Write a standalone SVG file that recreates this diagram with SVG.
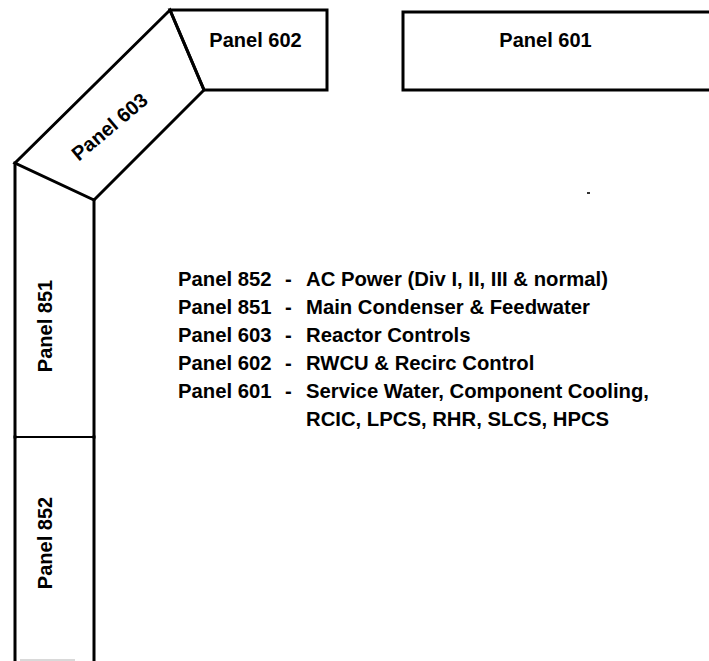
<svg xmlns="http://www.w3.org/2000/svg" width="709" height="661" viewBox="0 0 709 661">
<style>
.edge{fill:none;stroke:#000;stroke-width:3;stroke-linejoin:miter;stroke-linecap:square}
.thin{fill:none;stroke:#000;stroke-width:2.2}
.lbl{font-family:"Liberation Sans",Arial,Helvetica,sans-serif;font-weight:bold;font-size:20px;fill:#000}
.leg{font-family:"Liberation Sans",Arial,Helvetica,sans-serif;font-weight:bold;font-size:20.3px;fill:#000}
</style>
<rect width="709" height="661" fill="#fff"/>
<g id="panel-601">
  <path class="edge" d="M709,12 L403,12 L403,90 L709,90"/>
  <text class="lbl" x="545.5" y="47" text-anchor="middle">Panel 601</text>
</g>
<g id="panel-602">
  <path class="edge" d="M170,10 L327,10 L327,90 L204,90 Z"/>
  <text class="lbl" x="255.5" y="47" text-anchor="middle">Panel 602</text>
</g>
<g id="panel-603">
  <path class="edge" d="M170,10 L204,90 L94,200 L15,163 Z"/>
  <text class="lbl" transform="translate(114,132) rotate(-40)" text-anchor="middle">Panel 603</text>
</g>
<g id="panel-851">
  <path class="edge" d="M15,163 L15,437 M94,200 L94,437"/>
  <line class="thin" x1="15" y1="437" x2="94" y2="437"/>
  <text class="lbl" transform="translate(52,326) rotate(-90)" text-anchor="middle">Panel 851</text>
</g>
<g id="panel-852">
  <path class="edge" d="M15,437 L15,663 M94,437 L94,663"/>
  <line x1="20" y1="660" x2="75" y2="660" stroke="#ccc" stroke-width="1.5"/>
  <text class="lbl" transform="translate(52,543) rotate(-90)" text-anchor="middle">Panel 852</text>
</g>
<g id="connectors"></g>
<g id="legend" class="leg">
  <text x="178" y="286">Panel 852</text><text x="285" y="286">-</text><text x="306" y="286">AC Power (Div I, II, III &amp; normal)</text>
  <text x="178" y="314">Panel 851</text><text x="285" y="314">-</text><text x="306" y="314">Main Condenser &amp; Feedwater</text>
  <text x="178" y="342">Panel 603</text><text x="285" y="342">-</text><text x="306" y="342">Reactor Controls</text>
  <text x="178" y="370">Panel 602</text><text x="285" y="370">-</text><text x="306" y="370">RWCU &amp; Recirc Control</text>
  <text x="178" y="398">Panel 601</text><text x="285" y="398">-</text><text x="306" y="398">Service Water, Component Cooling,</text>
  <text x="306" y="426">RCIC, LPCS, RHR, SLCS, HPCS</text>
</g>
<g id="specks" fill="#333">
  <rect x="587" y="192" width="3" height="2"/>
</g>
</svg>
